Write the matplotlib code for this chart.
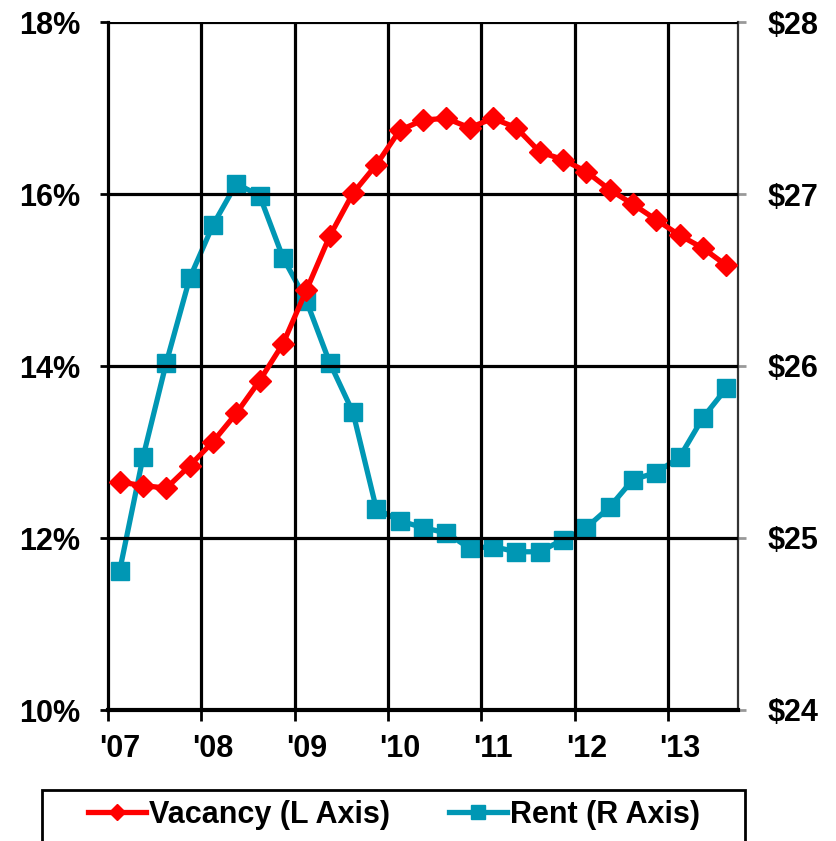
import numpy as np
import matplotlib
matplotlib.use("Agg")
import matplotlib.pyplot as plt
from matplotlib.patches import Rectangle

plt.rcParams['font.family'] = ['Liberation Sans', 'DejaVu Sans']
plt.rcParams['font.weight'] = 'bold'

# quarterly series, 2007 Q1 .. 2013 Q3
vacancy = [12.65, 12.61, 12.58, 12.84, 13.12, 13.45, 13.83, 14.26, 14.88,
           15.51, 16.01, 16.34, 16.74, 16.86, 16.88, 16.77, 16.88, 16.77,
           16.49, 16.40, 16.26, 16.05, 15.88, 15.70, 15.52, 15.37, 15.17]
rent = [24.81, 25.47, 26.02, 26.51, 26.82, 27.06, 26.99, 26.63, 26.38,
        26.02, 25.73, 25.17, 25.10, 25.06, 25.03, 24.94, 24.95, 24.92,
        24.92, 24.99, 25.06, 25.18, 25.34, 25.38, 25.47, 25.70, 25.87]
years = ["'07", "'08", "'09", "'10", "'11", "'12", "'13"]

red = '#FF0000'
teal = '#0097B4'
fs = 22

x = np.arange(len(vacancy)) + 0.5

fig = plt.figure(figsize=(8.36, 8.41), dpi=100)
ax = fig.add_axes([108/836, 1 - 710/841, 630/836, 688/841])
ax2 = ax.twinx()

ax.set_xlim(0, len(vacancy))
ax.set_ylim(10, 18)
ax2.set_ylim(24, 28)

# grid: year boundaries and even percentages
for q in range(4, len(vacancy), 4):
    ax.axvline(q, color='black', lw=2.3, zorder=1)
for v in [12, 14, 16, 18]:
    ax.axhline(v, color='black', lw=2.3, zorder=1)

l1, = ax.plot(x, vacancy, color=red, lw=3.8, marker='D', ms=11.5,
              markeredgecolor=red, zorder=3, label='Vacancy (L Axis)')
l2, = ax2.plot(x, rent, color=teal, lw=3.8, marker='s', ms=13,
               markeredgecolor=teal, zorder=3, label='Rent (R Axis)')
ax.set_zorder(ax2.get_zorder() + 1)
ax.patch.set_visible(False)

ax.set_yticks([10, 12, 14, 16, 18])
ax.set_yticklabels(['10%', '12%', '14%', '16%', '18%'])
ax2.set_yticks([24, 25, 26, 27, 28])
ax2.set_yticklabels(['$24', '$25', '$26', '$27', '$28'])

ax.set_xticks(np.arange(0, len(vacancy), 4))
ax.set_xticklabels([])
ax.set_xticks(np.arange(0, len(vacancy), 4) + 0.5, minor=True)
ax.set_xticklabels(years, minor=True)

ax.tick_params(axis='y', direction='out', length=6, width=2, pad=14,
               labelsize=fs, colors='black')
ax.tick_params(axis='x', which='major', direction='out', length=8, width=2)
ax.tick_params(axis='x', which='minor', length=0, pad=17, labelsize=fs)
ax2.tick_params(axis='y', direction='out', length=6, width=2, pad=15,
                labelsize=fs, color='#999999')

for a in (ax, ax2):
    for s in a.spines.values():
        s.set_visible(False)
ax.spines['left'].set_visible(True)
ax.spines['left'].set_linewidth(2.3)
ax.spines['bottom'].set_visible(True)
ax.spines['bottom'].set_linewidth(3)
ax2.spines['right'].set_visible(True)
ax2.spines['right'].set_linewidth(1.6)
ax2.spines['right'].set_color('#333333')

# legend box runs past the bottom edge
fig.patches.append(Rectangle((42/836, -0.05), 703/836, 0.05 + 1 - 790/841,
                             transform=fig.transFigure, fill=False,
                             edgecolor='black', lw=2))
leg = fig.legend(handles=[l1, l2], loc='center', ncol=2,
                 bbox_to_anchor=(394/836, 1 - 815/841), borderaxespad=0,
                 fontsize=fs, frameon=False,
                 handlelength=1.9, handletextpad=0.1, columnspacing=1.9,
                 borderpad=0.3, markerscale=0.75)

fig.savefig('out.png', dpi=100)
